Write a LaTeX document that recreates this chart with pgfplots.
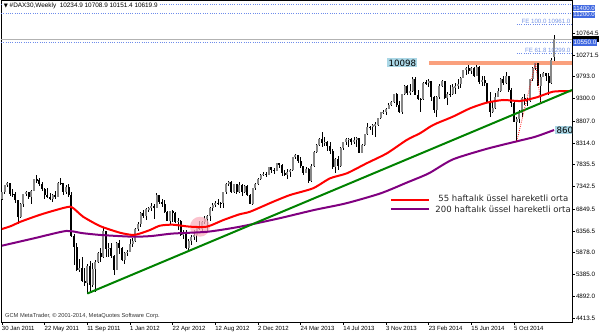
\documentclass[border=0pt]{standalone}
\usepackage{pgfplots}
\pgfplotsset{compat=1.18}
\usepackage{pgfplotstable}
\usepackage{fontspec}
\setmainfont{Liberation Sans}
\newfontfamily\dejavu{DejaVu Sans}
\definecolor{bullc}{RGB}{135,135,135}
\definecolor{dotblue}{RGB}{110,140,235}
\definecolor{royal}{RGB}{65,105,225}
\definecolor{salmonc}{RGB}{250,160,125}
\definecolor{lblue}{RGB}{170,215,230}
\definecolor{emared}{RGB}{255,0,0}
\definecolor{emapurple}{RGB}{128,0,128}
\definecolor{tlgreen}{RGB}{0,130,0}
\definecolor{fetext}{RGB}{120,150,230}
\definecolor{pinkc}{RGB}{250,175,190}

\pgfplotstableread{
w o h l c
0 7078 7230 7050 7217
1 7217 7375 7170 7371
2 7371 7440 7330 7426
3 7426 7430 7140 7185
4 7185 7300 7120 7178
5 7178 7230 6990 7044
6 7044 7050 6510 6664
7 6664 6980 6650 6947
8 6947 7180 6900 7177
9 7177 7250 7140 7217
10 7217 7230 7060 7110
11 7110 7260 6960 7249
12 7249 7520 7240 7514
13 7514 7600 7420 7492
14 7492 7530 7350 7411
15 7411 7440 7250 7297
16 7297 7320 7080 7163
17 7163 7320 7100 7109
18 7109 7200 7050 7070
19 7070 7180 7000 7164
20 7164 7250 7060 7121
21 7121 7440 7110 7419
22 7419 7530 7380 7417
23 7417 7420 7150 7220
24 7220 7380 7180 7345
25 7345 7410 7120 7159
26 7159 7220 6230 6236
27 6236 6300 5610 5997
28 5997 6090 5460 5480
29 5480 5740 5440 5537
30 5537 5780 5230 5246
31 5246 5530 5140 5189
32 5189 5620 4965 5574
33 5574 5680 5000 5164
34 5164 5640 5110 5502
35 5502 5720 5000 5675
36 5675 5890 5640 5858
37 5858 5980 5660 5771
38 5771 6430 5750 6346
39 6346 6360 5770 5967
40 5967 6100 5780 5985
41 5985 6090 5760 5800
42 5800 5830 5370 5493
43 5493 6120 5490 6080
44 6080 6160 5840 5986
45 5986 6000 5680 5702
46 5702 5900 5620 5878
47 5878 5940 5800 5898
48 5898 6180 5890 6057
49 6057 6200 6000 6143
50 6143 6420 6110 6404
51 6404 6560 6360 6511
52 6511 6770 6450 6766
53 6766 6820 6640 6692
54 6692 6860 6600 6848
55 6848 6900 6780 6865
56 6865 6970 6800 6922
57 6922 6960 6630 6880
58 6880 7194 6870 7157
59 7157 7160 6960 6996
60 6996 7080 6900 6947
61 6947 7050 6750 6775
62 6775 6800 6580 6584
63 6584 6810 6500 6801
64 6801 6830 6560 6762
65 6762 6790 6540 6561
66 6561 6640 6380 6579
67 6579 6600 6240 6271
68 6271 6380 6180 6339
69 6339 6390 5960 5978
70 5978 6180 5914 6131
71 6131 6270 6040 6229
72 6229 6380 6150 6264
73 6264 6440 6120 6416
74 6416 6580 6390 6410
75 6410 6570 6310 6557
76 6557 6700 6520 6630
77 6630 6720 6330 6689
78 6689 6900 6570 6865
79 6865 6990 6800 6945
80 6945 7030 6880 6978
81 6978 7080 6930 6971
82 6971 7010 6870 6970
83 6970 7230 6880 7214
84 7214 7430 7190 7412
85 7412 7478 7350 7451
86 7451 7460 7200 7216
87 7216 7400 7200 7398
88 7398 7400 7180 7233
89 7233 7440 7210 7380
90 7380 7400 7140 7231
91 7231 7370 7200 7363
92 7363 7380 7130 7163
93 7163 7170 6950 6950
94 6950 7320 6940 7309
95 7309 7420 7280 7405
96 7405 7540 7390 7518
97 7518 7620 7500 7596
98 7596 7680 7580 7636
99 7636 7660 7570 7612
100 7612 7790 7600 7776
101 7776 7780 7640 7715
102 7715 7750 7620 7702
103 7702 7880 7690 7869
104 7869 7870 7750 7833
105 7833 7840 7590 7652
106 7652 7720 7580 7593
107 7593 7740 7520 7662
108 7662 7740 7560 7708
109 7708 8010 7700 8004
110 8004 8060 7960 8043
111 8043 8050 7870 7913
112 7913 8000 7760 7795
113 7795 7800 7600 7658
114 7658 7790 7640 7745
115 7745 7760 7420 7460
116 7460 7850 7450 7814
117 7814 8130 7790 8122
118 8122 8290 8100 8278
119 8278 8420 8260 8399
120 8399 8560 8220 8306
121 8306 8440 8260 8348
122 8348 8360 8140 8254
123 8254 8330 8080 8127
124 8127 8190 7740 7790
125 7790 7980 7650 7959
126 7959 8020 7720 7806
127 7806 8230 7790 8212
128 8212 8340 8150 8331
129 8331 8420 8280 8404
130 8404 8420 8230 8410
131 8410 8420 8270 8338
132 8338 8440 8300 8391
133 8391 8450 8220 8417
134 8417 8420 8100 8103
135 8103 8300 8100 8276
136 8276 8520 8260 8509
137 8509 8770 8500 8675
138 8675 8700 8600 8661
139 8661 8740 8500 8725
140 8725 8780 8450 8725
141 8725 8880 8700 8869
142 8869 9010 8860 9001
143 9001 9060 8970 9009
144 9009 9090 8950 9078
145 9078 9200 9070 9168
146 9168 9260 9150 9225
147 9225 9410 9200 9405
148 9405 9420 9120 9172
149 9172 9240 8990 9006
150 9006 9410 8960 9400
151 9400 9600 9390 9589
152 9589 9600 9380 9435
153 9435 9620 9380 9473
154 9473 9790 9460 9742
155 9742 9794 9380 9392
156 9392 9490 9280 9306
157 9306 9320 9000 9289
158 9289 9670 9280 9662
159 9662 9720 9600 9656
160 9656 9730 9560 9692
161 9692 9700 9250 9350
162 9350 9370 8990 9056
163 9056 9360 8900 9342
164 9342 9620 9300 9587
165 9587 9720 9560 9695
166 9695 9700 9300 9315
167 9315 9440 9160 9409
168 9409 9600 9330 9401
169 9401 9620 9390 9556
170 9556 9660 9400 9581
171 9581 9740 9520 9630
172 9630 9780 9530 9768
173 9768 9950 9760 9943
174 9943 10000 9840 9987
175 9987 10050 9860 9912
176 9912 10000 9850 9987
177 9987 10000 9780 9815
178 9815 10050 9800 10009
179 10009 10020 9630 9666
180 9666 9800 9580 9720
181 9720 9810 9580 9644
182 9644 9650 9200 9210
183 9210 9440 8903 9010
184 9010 9250 8990 9092
185 9092 9420 9080 9339
186 9339 9530 9330 9470
187 9470 9760 9440 9747
188 9747 9800 9600 9651
189 9651 9890 9640 9799
190 9799 9810 9450 9490
191 9490 9550 9120 9196
192 9196 9220 8780 8788
193 8788 8890 8355 8850
194 8850 9050 8750 8988
195 8988 9350 8900 9326
196 9326 9400 9170 9291
197 9291 9320 9150 9252
198 9252 9740 9230 9732
199 9732 10000 9700 9980
200 9980 10093 9940 10087
201 10087 10090 9580 9594
202 9594 9850 9219 9786
203 9786 9900 9780 9865
204 9865 9880 9700 9806
205 9806 9870 9380 9648
206 9648 10200 9630 10167
207 10234.9 10708.9 10151.4 10619.9
}\dax

\begin{document}
\begin{tikzpicture}
\useasboundingbox (0,0) rectangle (450pt,249.75pt);
\begin{axis}[
  at={(0.75pt,8.25pt)}, anchor=south west,
  scale only axis, width=428.25pt, height=241.1pt,
  xmin=-0.375, xmax=213.7, ymin=4331, ymax=11487,
  clip=false,
  axis line style={black, line width=0.6pt},
  tick align=outside, major tick length=2pt,
  tick style={black, line width=0.5pt},
  xtick pos=bottom, ytick pos=right, yticklabel pos=right,
  xtick={0,16,...,192},
  xticklabels={30 Jan 2011,22 May 2011,11 Sep 2011,1 Jan 2012,22 Apr 2012,12 Aug 2012,2 Dec 2012,24 Mar 2013,14 Jul 2013,3 Nov 2013,23 Feb 2014,15 Jun 2014,5 Oct 2014},
  xticklabel style={anchor=north west, xshift=-1.2pt, inner sep=1pt, font=\fontsize{4.5}{5}\selectfont},
  ytick={4413.5,4892,5385,5878,6356.5,6849.5,7342.5,7835.5,8314,8807,9300,9793,10271.5,10764.5},
  yticklabels={4413.5,4892.0,5385.0,5878.0,6356.5,6849.5,7342.5,7835.5,8314.0,8807.0,9300.0,9793.0,10271.5,10764.5},
  yticklabel style={anchor=west, inner sep=0.8pt, font=\fontsize{4.7}{5}\selectfont},
]
% horizontal object lines
\draw[dotblue, densely dotted, line width=0.7pt] (axis cs:-0.375,11400) -- (axis cs:213.7,11400);
\draw[dotblue, densely dotted, line width=0.7pt] (axis cs:-0.375,11200) -- (axis cs:213.7,11200);
\draw[black!30, line width=0.5pt] (axis cs:-0.375,10619.9) -- (axis cs:213.7,10619.9);
\draw[dotblue, densely dotted, line width=0.7pt] (axis cs:-0.375,10550) -- (axis cs:213.7,10550);
\draw[dotblue, densely dotted, line width=0.7pt] (axis cs:193,10961) -- (axis cs:213.7,10961);
\draw[dotblue, densely dotted, line width=0.7pt] (axis cs:193,10299) -- (axis cs:213.7,10299);
\draw[salmonc, line width=3pt] (axis cs:160,10098) -- (axis cs:213.7,10098);

% wicks
\addplot[draw=none, mark=none, forget plot,
  error bars/.cd, y dir=both, y explicit, error mark=none,
  error bar style={line width=0.55pt, draw=black}]
  table[x=w, y expr={(\thisrow{h}+\thisrow{l})/2}, y error expr={(\thisrow{h}-\thisrow{l})/2}] \dax;
% bull bodies
\addplot[draw=none, mark=none, forget plot,
  restrict expr to domain={\thisrow{c}-\thisrow{o}}{0:100000},
  error bars/.cd, y dir=both, y explicit, error mark=none,
  error bar style={line width=1.45pt, draw=bullc}]
  table[x=w, y expr={(\thisrow{o}+\thisrow{c})/2}, y error expr={max(abs(\thisrow{c}-\thisrow{o})/2,8)}] \dax;
% bear bodies
\addplot[draw=none, mark=none, forget plot,
  restrict expr to domain={\thisrow{c}-\thisrow{o}}{-100000:-0.01},
  error bars/.cd, y dir=both, y explicit, error mark=none,
  error bar style={line width=1.45pt, draw=black}]
  table[x=w, y expr={(\thisrow{o}+\thisrow{c})/2}, y error expr={max(abs(\thisrow{c}-\thisrow{o})/2,8)}] \dax;

% pink highlight
\fill[pinkc, opacity=0.75] (axis cs:74.2,6452) circle[radius=7.5pt];

% EMA 200
\addplot[emapurple, line width=1.5pt, smooth, tension=0.4] coordinates {
(0,6030) (12,6194) (24,6357) (30,6310) (37,6268) (49,6230) (56,6245) (64,6300) (77,6340) (89,6450) (104,6640) (117,6824) (129,6973) (142,7196) (152,7440) (160,7640) (169,7950) (182,8190) (194,8367) (200,8456) (207,8605)};
% EMA 55
\addplot[emared, line width=1.5pt, smooth, tension=0.4] coordinates {
(0,6401) (3.4,6468) (7,6564) (14,6713) (20,6820) (25.5,6898) (28,6800) (30.4,6675) (36.7,6468) (44.2,6319) (49,6268) (51.7,6300) (55.5,6379) (59.2,6475) (64,6497) (70.5,6453) (76.8,6453) (83,6601) (89,6728) (93,6786) (101.7,7009) (108,7158) (116.6,7307) (123,7530) (129.3,7641) (136.7,7864) (144.3,8086) (151.7,8382) (156.7,8532) (160.5,8678) (163,8754) (169,8901) (175.5,9088) (181.7,9213) (188,9273) (194.2,9250) (200.5,9333) (206.6,9458) (213.5,9473)};
% trend line
\addplot[tlgreen, line width=1.5pt] coordinates {(32,4965) (213.7,9495)};
% Fibonacci expansion path
\addplot[red, densely dotted, line width=0.6pt] coordinates {(193,8355) (200,10093) (202,9219)};

% labels inside the chart
\node[fill=lblue, inner sep=0.9pt, font=\dejavu\fontsize{6.5}{7}\selectfont] at (axis cs:150.1,10098) {10098};
\node[anchor=south east, inner sep=0.6pt, text=fetext, font=\fontsize{4.6}{5}\selectfont] at (axis cs:213.5,10961) {FE 100.0 10961.0};
\node[anchor=south east, inner sep=0.6pt, text=fetext, font=\fontsize{4.6}{5}\selectfont] at (axis cs:213.5,10299) {FE 61.8 10299.0};
\node[anchor=west, fill=white, inner sep=0.8pt, font=\fontsize{4.8}{5}\selectfont] at (axis cs:0.2,11370) {{\dejavu\fontsize{4}{5}\selectfont ▼} \#DAX30,Weekly\ \ 10234.9 10708.9 10151.4 10619.9};
\node[anchor=west, inner sep=0.5pt, text=black!80, font=\fontsize{4.3}{5}\selectfont] at (axis cs:0.8,4470) {GCM MetaTrader, © 2001-2014, MetaQuotes Software Corp.};

% legend
\draw[emared, line width=1.5pt] (axis cs:145.8,7047) -- (axis cs:160.2,7047);
\draw[emapurple, line width=1.5pt] (axis cs:145.8,6847) -- (axis cs:160.2,6847);
\begin{scope}
\clip (rel axis cs:0,0) rectangle (rel axis cs:1,1);
\node[anchor=west, inner sep=0pt, text=black!85, font=\dejavu\fontsize{6.4}{7}\selectfont] at (axis cs:163.5,7080) {55 haftalık üssel hareketli orta};
\node[anchor=west, inner sep=0pt, text=black!85, font=\dejavu\fontsize{6.4}{7}\selectfont] at (axis cs:162.4,6840) {200 haftalık üssel hareketli orta};
\node[anchor=west, fill=lblue, inner sep=0.9pt, font=\dejavu\fontsize{6.5}{7}\selectfont] at (axis cs:207.4,8605) {860};
\end{scope}

% right side price labels
\node[anchor=west, fill=royal, text=white, inner sep=0.5pt, font=\fontsize{4.5}{5}\selectfont] at (axis cs:213.9,11315) {11400.0};
\node[anchor=west, fill=royal, text=white, inner sep=0.5pt, font=\fontsize{4.5}{5}\selectfont] at (axis cs:213.9,11170) {11200.0};
\fill[black] ([xshift=0.6pt]axis cs:213.7,10560) rectangle ([xshift=20pt]axis cs:213.7,10700);
\node[anchor=west, fill=royal, text=white, inner sep=0.7pt, font=\fontsize{4.7}{5}\selectfont] at (axis cs:213.9,10550) {10550.0};
\end{axis}
\end{tikzpicture}
\end{document}
